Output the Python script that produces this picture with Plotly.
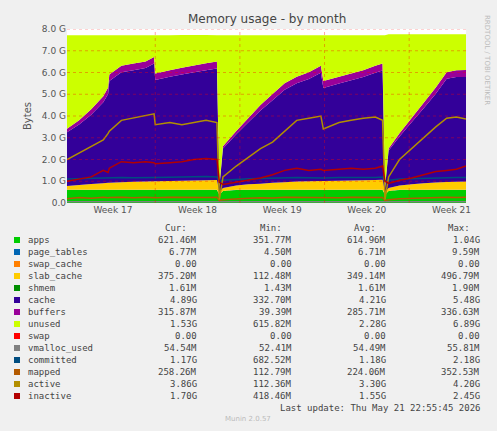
import plotly.graph_objects as go

# time in days since start of graph window
t = [0, 1, 2, 3, 3.4, 3.5, 4.5, 5.5, 6.5, 7.2, 7.3, 8.5, 9.5, 10.5, 11.5, 12.4, 12.6, 12.9,
     14, 15, 16, 17, 18, 19, 20, 21, 21.2, 22.5, 23.5, 24.5, 25.5, 26.1, 26.3, 26.6,
     27.5, 28.5, 29.5, 30.5, 31.4, 32.2, 33]

# stacked values, GB
apps = [0.6] * 16 + [0.38, 0.55] + [0.6] * 14 + [0.38, 0.55] + [0.6] * 7
page_tables = [0.007] * 41
swap_cache = [0] * 41
slab_cache = [0.17, 0.22, 0.27, 0.3, 0.32, 0.32, 0.35, 0.37, 0.38, 0.39, 0.39, 0.4, 0.42, 0.43, 0.44, 0.45,
              0.12, 0.13, 0.2, 0.25, 0.28, 0.32, 0.35, 0.38, 0.39, 0.4, 0.4, 0.42, 0.43, 0.44, 0.45, 0.46,
              0.12, 0.13, 0.2, 0.25, 0.3, 0.33, 0.36, 0.37, 0.375]
shmem = [0.0016] * 41
cache = [2.48, 2.78, 3.18, 3.72, 4.08, 4.68, 5.05, 5.13, 5.22, 5.41, 4.66, 4.8, 4.88, 4.97, 5.06, 5.13,
         0.21, 1.82, 2.35, 2.85, 3.37, 3.8, 4.25, 4.52, 4.7, 4.98, 4.28, 4.46, 4.6, 4.74, 4.93, 5.02,
         0.16, 1.72, 2.25, 2.85, 3.45, 4.09, 4.74, 4.82, 4.81]
buffers = [0.15, 0.2, 0.25, 0.28, 0.3, 0.3, 0.3, 0.3, 0.3, 0.3, 0.3, 0.3, 0.31, 0.31, 0.32, 0.32,
           0.04, 0.1, 0.15, 0.2, 0.25, 0.28, 0.3, 0.3, 0.31, 0.32, 0.32, 0.32, 0.32, 0.32, 0.32, 0.32,
           0.04, 0.1, 0.15, 0.2, 0.25, 0.28, 0.3, 0.31, 0.316]
unused = [4.3, 3.9, 3.4, 2.8, 2.4, 1.8, 1.4, 1.3, 1.2, 1.0, 1.75, 1.6, 1.5, 1.4, 1.3, 1.2,
          6.95, 5.1, 4.4, 3.8, 3.2, 2.7, 2.2, 1.9, 1.7, 1.4, 2.1, 1.9, 1.75, 1.6, 1.4, 1.3,
          7.0, 5.25, 4.55, 3.85, 3.15, 2.45, 1.75, 1.65, 1.65]
swap = [0] * 41

# line values, GB
vmalloc_used = [0.054] * 41
committed = [1.1, 1.12, 1.13, 1.15, 1.15, 1.16, 1.17, 1.16, 1.18, 1.17, 1.17, 1.18, 1.2, 1.19, 1.22, 1.2,
             1.0, 1.05, 1.1, 1.12, 1.13, 1.15, 1.15, 1.17, 1.16, 1.18, 1.15, 1.17, 1.16, 1.18, 1.17, 1.19,
             1.0, 1.05, 1.1, 1.12, 1.14, 1.15, 1.16, 1.17, 1.17]
mapped = [0.2, 0.25, 0.22, 0.26, 0.24, 0.25, 0.27, 0.24, 0.26, 0.25, 0.24, 0.26, 0.25, 0.27, 0.25, 0.26,
          0.12, 0.15, 0.2, 0.22, 0.24, 0.23, 0.26, 0.25, 0.24, 0.26, 0.25, 0.24, 0.26, 0.25, 0.27, 0.25,
          0.12, 0.15, 0.2, 0.22, 0.24, 0.25, 0.26, 0.25, 0.26]
active = [2.0, 2.3, 2.6, 2.9, 3.2, 3.3, 3.8, 3.9, 4.0, 4.1, 3.6, 3.7, 3.6, 3.7, 3.8, 3.7,
          0.15, 1.2, 1.7, 2.1, 2.5, 2.8, 3.3, 3.8, 3.9, 4.0, 3.4, 3.7, 3.8, 3.9, 3.95, 3.8,
          0.15, 1.2, 2.0, 2.5, 3.0, 3.5, 3.9, 3.95, 3.86]
inactive = [1.0, 1.1, 1.2, 1.5, 1.4, 1.6, 1.9, 1.85, 1.9, 1.85, 1.8, 1.85, 1.9, 2.0, 2.05, 2.0,
            0.95, 0.85, 0.95, 1.05, 1.15, 1.3, 1.5, 1.6, 1.5, 1.55, 1.5, 1.55, 1.6, 1.55, 1.6, 1.7,
            1.0, 0.9, 1.05, 1.15, 1.3, 1.45, 1.5, 1.55, 1.7]

week_pos = [3.8, 10.8, 17.8, 24.8, 31.8]
week_labels = ["Week 17", "Week 18", "Week 19", "Week 20", "Week 21"]
week_bounds = [7.3, 14.3, 21.3, 28.3]

legend = [
    ("apps", "#00cc00", "621.46M", "351.77M", "614.96M", "1.04G"),
    ("page_tables", "#0066b3", "6.77M", "4.50M", "6.71M", "9.59M"),
    ("swap_cache", "#ff8000", "0.00", "0.00", "0.00", "0.00"),
    ("slab_cache", "#ffcc00", "375.20M", "112.48M", "349.14M", "496.79M"),
    ("shmem", "#008f00", "1.61M", "1.43M", "1.61M", "1.90M"),
    ("cache", "#330099", "4.89G", "332.70M", "4.21G", "5.48G"),
    ("buffers", "#990099", "315.87M", "39.39M", "285.71M", "336.63M"),
    ("unused", "#ccff00", "1.53G", "615.82M", "2.28G", "6.89G"),
    ("swap", "#ff0000", "0.00", "0.00", "0.00", "0.00"),
    ("vmalloc_used", "#808080", "54.54M", "52.41M", "54.49M", "55.81M"),
    ("committed", "#004d80", "1.17G", "682.52M", "1.18G", "2.18G"),
    ("mapped", "#b35a00", "258.26M", "112.79M", "224.06M", "352.53M"),
    ("active", "#b38f00", "3.86G", "112.36M", "3.30G", "4.20G"),
    ("inactive", "#b30000", "1.70G", "418.46M", "1.55G", "2.45G"),
]
col = {n: c for n, c, *_ in legend}

fig = go.Figure()
stack = [("apps", apps), ("page_tables", page_tables), ("swap_cache", swap_cache),
         ("slab_cache", slab_cache), ("shmem", shmem), ("cache", cache),
         ("buffers", buffers), ("unused", unused), ("swap", swap)]
for name, vals in stack:
    fig.add_trace(go.Scatter(x=t, y=vals, stackgroup="mem", mode="none",
                             fillcolor=col[name], name=name, line=dict(width=0)))
for name, vals in [("vmalloc_used", vmalloc_used), ("committed", committed), ("mapped", mapped),
                   ("active", active), ("inactive", inactive)]:
    fig.add_trace(go.Scatter(x=t, y=vals, mode="lines", line=dict(color=col[name], width=1.5),
                             name=name))

W, H = 497, 431
L, R, T, B = 67, 466, 29, 203

def px(x):
    return (x - L) / (R - L)

def py(y):
    return (B - y) / (B - T)

shapes = []
for g in range(1, 9):
    shapes.append(dict(type="line", xref="paper", yref="y", x0=0, x1=1, y0=g, y1=g,
                       line=dict(color="rgba(255,0,0,0.45)", width=0.8, dash="dot"), layer="above"))
for wb in week_bounds:
    shapes.append(dict(type="line", xref="x", yref="paper", x0=wb, x1=wb, y0=0, y1=1,
                       line=dict(color="rgba(255,0,0,0.45)", width=0.8, dash="dot"), layer="above"))

font = dict(family="DejaVu Sans Mono", size=9, color="#444")
ann = [
    dict(text="Memory usage - by month", x=0.5, y=py(19), xanchor="center", yanchor="middle",
         font=dict(family="DejaVu Sans", size=12, color="#444")),
    dict(text="RRDTOOL / TOBI OETIKER", x=px(487), y=py(60), textangle=90, xanchor="center",
         yanchor="middle", font=dict(family="DejaVu Sans", size=7, color="#bbb")),
    dict(text="Last update: Thu May 21 22:55:45 2026", x=px(482), y=py(408), xanchor="right",
         yanchor="middle", font=font),
    dict(text="Munin 2.0.57", x=px(248), y=py(419), xanchor="center", yanchor="middle",
         font=dict(family="DejaVu Sans", size=7, color="#bbb")),
]
col_x = [199, 294, 388, 482]
for cx, h in zip(col_x, ["Cur:", "Min:", "Avg:", "Max:"]):
    ann.append(dict(text=h, x=px(cx - 10), y=py(228), xanchor="right", yanchor="middle", font=font))
for i, (name, c, *vals) in enumerate(legend):
    yy = 240 + i * 12
    shapes.append(dict(type="rect", xref="paper", yref="paper", x0=px(14), x1=px(20),
                       y0=py(yy + 3), y1=py(yy - 3), fillcolor=c, line=dict(width=0)))
    ann.append(dict(text=name, x=px(26), y=py(yy), xanchor="left", yanchor="middle", font=font))
    for cx, v in zip(col_x, vals):
        ann.append(dict(text=v, x=px(cx), y=py(yy), xanchor="right", yanchor="middle", font=font))
for a in ann:
    a.update(xref="paper", yref="paper", showarrow=False)

fig.update_layout(
    width=W, height=H, showlegend=False,
    margin=dict(l=L, r=W - R, t=T, b=H - B),
    paper_bgcolor="#f0f0f0", plot_bgcolor="#ffffff",
    shapes=shapes, annotations=ann,
    font=dict(family="DejaVu Sans", size=9, color="#555"),
    xaxis=dict(range=[0, 33], tickvals=week_pos, ticktext=week_labels, showgrid=False,
               zeroline=False, ticks="", tickfont=dict(size=9, color="#555")),
    yaxis=dict(range=[0, 8], tickvals=list(range(9)),
               ticktext=["0.0"] + [f"{g}.0 G" for g in range(1, 9)], showgrid=False,
               zeroline=False, ticks="", tickfont=dict(size=9, color="#555"),
               title=dict(text="Bytes", font=dict(size=10, color="#555"), standoff=8)),
)
fig.write_html("out.html", config={"displayModeBar": False},
               post_script="document.body.style.margin='0';"
               "document.body.style.background='#f0f0f0';")
